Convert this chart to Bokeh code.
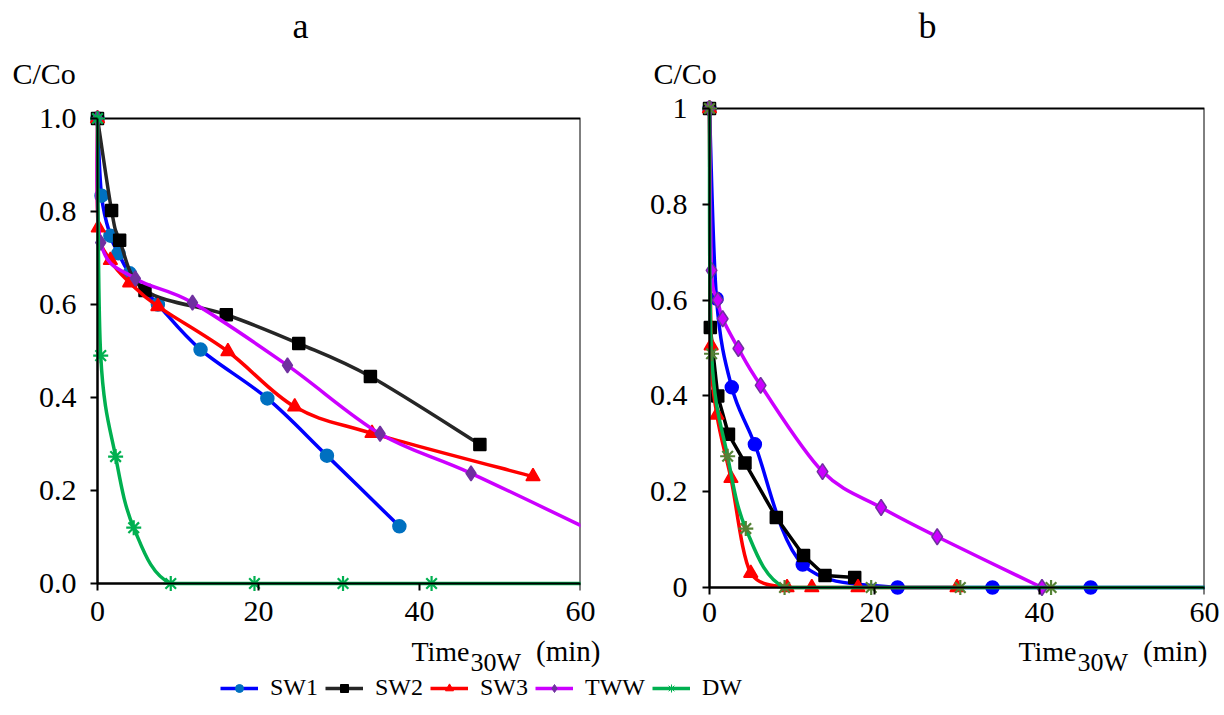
from bokeh.plotting import figure
from bokeh.layouts import column, row
from bokeh.models import (Label, Legend, LegendItem, PrintfTickFormatter,
                          CustomJSTickFormatter, FixedTicker, BoxAnnotation,
                          LinearAxis)
from bokeh.embed import file_html
from bokeh.resources import INLINE

# ---------------- data: panel a ----------------
a_sw1_t = [0, 0.5, 1.6, 2.6, 4.0, 7.5, 12.8, 21.1, 28.5, 37.5]
a_sw1_c = [1.0, 0.834, 0.748, 0.71, 0.667, 0.6, 0.503, 0.398, 0.275, 0.123]
a_sw2_t = [0, 1.75, 2.75, 5.9, 16.0, 25.0, 33.9, 47.5]
a_sw2_c = [1.0, 0.802, 0.738, 0.63, 0.578, 0.516, 0.445, 0.299]
a_sw3_t = [0, 0.1, 1.6, 4.0, 7.5, 16.2, 24.5, 34.1, 54.1]
a_sw3_c = [1.0, 0.765, 0.695, 0.647, 0.596, 0.499, 0.38, 0.323, 0.23]
a_tww_t = [0, 0.4, 4.7, 11.8, 23.6, 35.1, 46.4, 63.0]
a_tww_c = [1.0, 0.733, 0.656, 0.604, 0.469, 0.322, 0.237, 0.10]
a_dw_t = [0, 0.4, 2.25, 4.5, 9.1, 19.5, 30.5, 41.5, 65.0]
a_dw_c = [1.0, 0.49, 0.273, 0.12, 0.0, 0.0, 0.0, 0.0, 0.0]

# ---------------- data: panel b ----------------
b_sw1_t = [0, 0.85, 2.7, 5.5, 11.3, 22.8, 34.3, 46.2, 65.0]
b_sw1_c = [1.0, 0.603, 0.418, 0.299, 0.048, 0.0, 0.0, 0.0, 0.0]
b_sw2_t = [0, 0.1, 1.0, 2.3, 4.3, 8.1, 11.4, 14.0, 17.6]
b_sw2_c = [1.0, 0.543, 0.40, 0.32, 0.26, 0.146, 0.067, 0.025, 0.021]
b_sw3_t = [0, 0.2, 0.9, 2.6, 5.0, 9.4, 12.4, 18.0, 30.0]
b_sw3_c = [1.0, 0.505, 0.36, 0.228, 0.03, 0.0, 0.0, 0.0, 0.0]
b_tww_t = [0, 0.25, 1.0, 1.6, 3.5, 6.2, 13.7, 20.8, 27.6, 40.3]
b_tww_c = [1.0, 0.662, 0.60, 0.561, 0.499, 0.422, 0.242, 0.167, 0.106, 0.0]
b_dw_t = [0, 0.25, 2.2, 4.4, 9.1, 19.6, 30.4, 41.4, 65.0]
b_dw_c = [1.0, 0.488, 0.274, 0.123, 0.0, 0.0, 0.0, 0.0, 0.0]

series_names = ["SW1", "SW2", "SW3", "TWW", "DW"]
x_ticks = [0, 20, 40, 60]
y_ticks = [0, 0.2, 0.4, 0.6, 0.8, 1.0]

FONT = "Liberation Serif"
TICK_FONT = 30
PADX = 10          # px of room left of the y axis, so markers at t=0 are whole
CANVAS_TOP = 91    # top strip height
CANVAS_BOTTOM = 636
FRAME_TOP = 98     # shared frame (row aligns the two frames)
FRAME_BOTTOM = 597
TICK = 7


def smooth_line(p, t, c, color, width):
    n = len(t)
    x0, y0, x1, y1, cx0, cy0, cx1, cy1 = [], [], [], [], [], [], [], []
    for i in range(n - 1):
        ip = i - 1 if i > 0 else i
        i3 = i + 2 if i + 2 < n else i + 1
        lo, hi = min(c[i], c[i + 1]), max(c[i], c[i + 1])
        x0.append(t[i]); y0.append(c[i])
        x1.append(t[i + 1]); y1.append(c[i + 1])
        cx0.append(t[i] + (t[i + 1] - t[ip]) / 6.0)
        cy0.append(min(hi, max(lo, c[i] + (c[i + 1] - c[ip]) / 6.0)))
        cx1.append(t[i + 1] - (t[i3] - t[i]) / 6.0)
        cy1.append(min(hi, max(lo, c[i + 1] - (c[i3] - c[i]) / 6.0)))
    p.bezier(x0=x0, y0=y0, x1=x1, y1=y1, cx0=cx0, cy0=cy0, cx1=cx1, cy1=cy1,
             line_color=color, line_width=width, line_cap="round")


def add_series(p, t, c, line_color, marker, fill, outline, size, smooth=True):
    if smooth:
        smooth_line(p, t, c, line_color, 3.5)
    else:
        p.line(t, c, line_color=line_color, line_width=3.5, line_join="round")
    p.scatter(t, c, marker=marker, size=size, fill_color=fill, line_color=outline,
              line_width=1.5 if marker != "asterisk" else 2.2)


def label(p, x, y_top, text, size_px, align="left"):
    # y_top: wanted baseline, in px from the strip's top; Bokeh's alphabetic
    # placement sits about 0.38 em lower, so compensate.
    h = p.height
    p.add_layout(Label(x=x, y=h - (y_top - 0.38 * size_px), x_units="screen",
                       y_units="screen", text=text, text_font=FONT,
                       text_font_size=f"{size_px}px", text_align=align,
                       text_baseline="alphabetic", text_color="black"))


def make_panel(left, top, right, bottom, fmt, x0, xoff, yoff):
    # left/top/right/bottom: pixel place of x=0, y=1, x=60, y=0
    # xoff / yoff: distance of the tick labels from the drawn axis lines
    kx = (right - left) / 60.0
    ky = (bottom - top) / 1.0
    p = figure(width=612, height=CANVAS_BOTTOM - CANVAS_TOP,
               x_range=(-PADX / kx, 60),
               y_range=(-(FRAME_BOTTOM - bottom) / ky, 1 + (top - FRAME_TOP) / ky),
               output_backend="svg", toolbar_location=None,
               min_border_left=left - PADX - x0, min_border_right=x0 + 612 - right,
               min_border_top=FRAME_TOP - CANVAS_TOP,
               min_border_bottom=CANVAS_BOTTOM - FRAME_BOTTOM)
    p.grid.visible = False
    p.outline_line_color = None
    p.background_fill_color = "white"
    p.border_fill_color = "white"
    # side axes: only the tick labels (placed from the frame edge)
    for ax in (p.xaxis[0], p.yaxis[0]):
        ax.axis_line_color = None
        ax.major_tick_line_color = None
        ax.major_tick_in = 0
        ax.major_tick_out = 0
        ax.minor_tick_line_color = None
        ax.major_label_text_font = FONT
        ax.major_label_text_font_size = f"{TICK_FONT}px"
        ax.major_label_text_color = "black"
    p.xaxis.ticker = FixedTicker(ticks=x_ticks)
    p.yaxis.ticker = FixedTicker(ticks=y_ticks)
    p.yaxis.formatter = fmt
    p.xaxis.major_label_standoff = xoff - (FRAME_BOTTOM - bottom)
    p.yaxis.major_label_standoff = yoff - PADX
    # axis lines and ticks drawn at x=0 / y=0
    for side, bnds, tk in (("below", (0, max(x_ticks)), x_ticks),
                           ("left", (0, max(y_ticks)), y_ticks)):
        ax = LinearAxis(fixed_location=0, bounds=bnds, ticker=FixedTicker(ticks=tk),
                        axis_line_width=2, axis_line_color="black",
                        major_tick_line_width=2, major_tick_line_color="black",
                        major_tick_in=0, major_tick_out=TICK,
                        minor_tick_line_color=None, major_label_text_color=None)
        p.add_layout(ax, side)
    box = BoxAnnotation(left=0, right=max(x_ticks), bottom=0, top=max(y_ticks),
                        fill_alpha=0, line_color="black", line_alpha=1.0,
                        line_width=2, level="underlay")
    p.add_layout(box)
    return p


# ---------------- panel a ----------------
pa = make_panel(97, 118, 580, 583, PrintfTickFormatter(format="%.1f"), x0=0,
                xoff=18, yoff=21)
add_series(pa, a_sw1_t, a_sw1_c, "#0000FF", "circle", "#0070C0", "#0070C0", 13)
add_series(pa, a_sw2_t, a_sw2_c, "#262626", "square", "#000000", "#000000", 12)
add_series(pa, a_sw3_t, a_sw3_c, "#FF0000", "triangle", "#FF0000", "#FF0000", 14)
add_series(pa, a_tww_t, a_tww_c, "#CC00FF", "diamond", "#7030A0", "#7030A0", 15)
add_series(pa, a_dw_t, a_dw_c, "#00B050", "asterisk", "#00B050", "#00B050", 15)

# ---------------- panel b ----------------
pb = make_panel(709, 108, 1204, 587, CustomJSTickFormatter(
    code="return (tick == 0) ? '0' : (Math.abs(tick - 1) < 1e-9 ? '1' : tick.toFixed(1));"),
    x0=612, xoff=15, yoff=22)
add_series(pb, b_sw1_t, b_sw1_c, "#0000FF", "circle", "#0000FF", "#0000FF", 13)
add_series(pb, b_sw2_t, b_sw2_c, "#000000", "square", "#000000", "#000000", 12, smooth=False)
add_series(pb, b_sw3_t, b_sw3_c, "#FF0000", "triangle", "#FF0000", "#FF0000", 14)
add_series(pb, b_tww_t, b_tww_c, "#CC00FF", "diamond", "#CC00FF", "#7030A0", 16)
add_series(pb, b_dw_t, b_dw_c, "#00B050", "asterisk", "#548235", "#548235", 15)


def strip(h):
    s = figure(width=1224, height=h, x_range=(0, 1), y_range=(0, 1),
               output_backend="svg", toolbar_location=None,
               x_axis_type=None, y_axis_type=None, min_border=0)
    s.grid.visible = False
    s.outline_line_color = None
    s.border_fill_color = "white"
    s.background_fill_color = "white"
    return s


# ---------------- top strip: panel letters and y titles ----------------
top = strip(CANVAS_TOP)
label(top, 300, 39, "a", 36, align="center")
label(top, 927, 39, "b", 36, align="center")
label(top, 12, 84, "C/Co", 30)
label(top, 653, 84, "C/Co", 30)

# ---------------- bottom strip: x titles and legend ----------------
bot = strip(715 - CANVAS_BOTTOM)
for xs, xe in ((469, 600), (1076, 1207)):
    label(bot, xs, 662 - CANVAS_BOTTOM, "Time", 28, align="right")
    label(bot, xs + 1, 672 - CANVAS_BOTTOM, "30W", 26)
    label(bot, xe, 662 - CANVAS_BOTTOM, "(min)", 29, align="right")

leg_styles = [
    ("#0000FF", "circle", "#0070C0", "#0070C0"),
    ("#262626", "square", "#000000", "#000000"),
    ("#FF0000", "triangle", "#FF0000", "#FF0000"),
    ("#CC00FF", "diamond", "#7030A0", "#7030A0"),
    ("#00B050", "asterisk", "#00B050", "#00B050"),
]
items = []
for name, (lc, mk, fc, oc) in zip(series_names, leg_styles):
    r1 = bot.line(x=[-100, -99], y=[-100, -100], line_color=lc, line_width=3.5)
    r2 = bot.scatter(x=[-100], y=[-100], marker=mk, fill_color=fc, line_color=oc,
                     size=9)
    items.append(LegendItem(label=name, renderers=[r1, r2]))
legend = Legend(items=items, orientation="horizontal", location=(220, 14),
                glyph_width=38, glyph_height=20, label_standoff=12, spacing=7,
                padding=0, margin=0, border_line_alpha=0, background_fill_alpha=0,
                label_text_font=FONT, label_text_font_size="24px",
                label_text_color="black")
bot.add_layout(legend)

layout = column(top, row(pa, pb, spacing=0), bot, spacing=0)
open("out.html", "w").write(file_html(layout, INLINE))
